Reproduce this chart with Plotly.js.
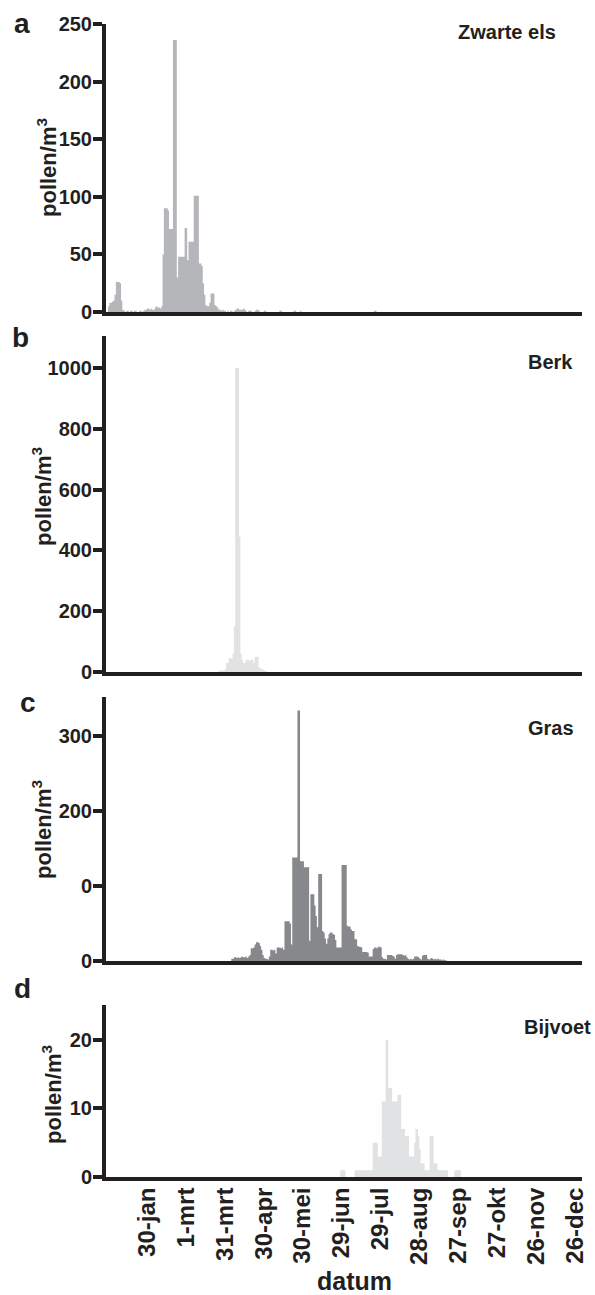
<!DOCTYPE html>
<html>
<head>
<meta charset="utf-8">
<script src="https://cdn.plot.ly/plotly-3.0.1.min.js"></script>
<style>
html,body{margin:0;padding:0;background:#fff;}
#chart{width:595px;height:1295px;}
</style>
</head>
<body>
<div id="chart"></div>
<script>
// ---- data (day of year -> pollen/m3) ----
const tickDays = [30, 60, 90, 120, 150, 180, 210, 240, 270, 300, 330, 360];
const tickLabels = ["30-jan", "1-mrt", "31-mrt", "30-apr", "30-mei", "29-jun", "29-jul", "28-aug", "27-sep", "27-okt", "26-nov", "26-dec"];

// a: Zwarte els (alder), daily from day 0
const alderStart = 0;
const alderValues = [
  5, 8, 8, 9, 10, 15, 26, 26, 26, 25,
  10, 2, 1, 0, 1, 1, 0, 1, 1, 0,
  1, 1, 0, 0, 1, 1, 0, 1, 2, 2,
  3, 3, 2, 3, 2, 2, 4, 5, 4, 4,
  3, 5, 50, 90, 90, 90, 88, 72, 72, 72,
  236, 236, 236, 30, 48, 48, 48, 48, 48, 73,
  73, 45, 61, 61, 61, 61, 101, 101, 101, 101,
  42, 42, 40, 25, 15, 6, 5, 5, 8, 16,
  16, 16, 6, 5, 4, 2, 2, 1, 2, 1,
  1, 0, 1, 0, 1, 1, 0, 1, 2, 3,
  3, 2, 2, 2, 3, 2, 1, 0, 1, 1,
  1, 0, 0, 1, 2, 2, 1, 0, 0, 0,
  1, 1, 0, 0, 0, 0, 0, 0, 0, 0,
  0, 0, 1, 1, 0, 0, 0, 0, 0, 0,
  0, 0, 0, 1, 1, 0, 0, 0, 1, 0,
  0, 0, 0, 0, 0, 0, 0, 0, 0, 0,
  0, 0, 0, 0, 0, 0, 0, 0, 0, 0,
  0, 0, 0, 0, 0, 0, 0, 0, 0, 0,
  0, 0, 0, 0, 0, 0, 0, 0, 0, 0,
  0, 0, 0, 0, 0, 0, 0, 0, 0, 0,
  0, 0, 0, 0, 0, 1, 1, 0, 0, 0
];

// b: Berk (birch), daily from day 84
const birchStart = 84;
const birchValues = [
  0, 3, 5, 5, 5, 6, 8, 30, 30, 45,
  45, 45, 60, 150, 1000, 1000, 1000, 445, 60, 40,
  30, 30, 40, 40, 40, 35, 40, 40, 30, 50,
  50, 50, 15, 12, 10, 8, 5, 3, 2, 0
];

// c: Gras (grass), daily from day 95
const grassStart = 95;
const grassValues = [
  3, 3, 5, 5, 4, 5, 4, 5, 6, 5,
  5, 6, 4, 6, 8, 17, 17, 18, 22, 25,
  25, 24, 20, 15, 8, 4, 3, 3, 2, 6,
  15, 15, 14, 15, 10, 18, 18, 18, 17, 18,
  15, 53, 53, 53, 53, 50, 22, 138, 138, 138,
  138, 334, 334, 133, 133, 133, 125, 125, 125, 125,
  27, 89, 89, 89, 74, 60, 45, 116, 116, 116,
  40, 38, 30, 23, 30, 36, 38, 38, 36, 35,
  28, 18, 18, 18, 18, 128, 128, 128, 128, 47,
  46, 46, 42, 40, 40, 29, 29, 20, 19, 19,
  18, 12, 12, 12, 12, 11, 6, 6, 6, 16,
  18, 18, 17, 19, 19, 18, 5, 3, 3, 2,
  8, 8, 8, 8, 7, 6, 3, 8, 9, 9,
  9, 9, 8, 7, 8, 5, 3, 2, 3, 2,
  3, 6, 6, 6, 5, 3, 2, 7, 8, 8,
  8, 3, 2, 3, 4, 3, 2, 3, 2, 3,
  2, 2, 1, 2, 1, 1, 0, 0
];

// d: Bijvoet (mugwort), daily from day 177
const mugwortStart = 177;
const mugwortValues = [
  0, 0, 1, 1, 1, 1, 0, 0, 0, 0,
  0, 0, 0, 1, 1, 1, 1, 1, 1, 1,
  1, 1, 1, 1, 1, 1, 1, 5, 5, 5,
  5, 3, 3, 3, 11, 11, 11, 20, 20, 13,
  13, 13, 11, 11, 11, 11, 12, 12, 12, 7,
  7, 7, 6, 6, 6, 3, 3, 3, 3, 5,
  7, 7, 6, 4, 2, 2, 2, 1, 1, 1,
  1, 6, 6, 6, 2, 2, 2, 1, 1, 1,
  1, 1, 1, 1, 1, 0, 0, 0, 0, 0,
  1, 1, 1, 1, 1, 0
];

const panelTitles = ["Zwarte els", "Berk", "Gras", "Bijvoet"];
const panelLetters = ["a", "b", "c", "d"];

// ---- styling ----
const INK = '#231f20';
const FONT = 'Liberation Sans, Arial, Helvetica, sans-serif';
const W = 595, H = 1295;
const px = v => v / W;
const py = v => 1 - v / H;

function days(start, vals) { return vals.map((_, i) => start + i); }

function areaTrace(start, vals, color, axis) {
  return {
    type: 'scatter', mode: 'lines',
    x: days(start, vals), y: vals,
    xaxis: 'x' + axis, yaxis: 'y' + axis,
    line: {width: 0, shape: 'hv', color: color},
    fill: 'tozeroy', fillcolor: color,
    hoverinfo: 'skip'
  };
}

const data = [
  areaTrace(alderStart, alderValues, '#b5b6b9', ''),
  areaTrace(birchStart, birchValues, '#e1e2e4', '2'),
  areaTrace(grassStart, grassValues, '#87888b', '3'),
  areaTrace(mugwortStart, mugwortValues, '#e1e2e4', '4')
];

const xDomain = [106 / W, 582 / W];
const xRange = [-1.6, 365.4];

function xAxis(anchor, labels) {
  return {
    domain: xDomain, range: xRange, anchor: anchor,
    showline: true, linewidth: 4, linecolor: INK,
    ticks: '', showgrid: false, zeroline: false,
    tickmode: 'array', tickvals: tickDays, ticktext: tickLabels,
    showticklabels: labels, tickangle: -90,
    ticklabelstandoff: -3,
    tickfont: {family: FONT, size: 24, color: INK, weight: 'bold'},
    fixedrange: true
  };
}
function yAxis(anchor, top, bottom, range, tvals, ttext) {
  return {
    domain: [py(bottom), py(top)], range: range, anchor: anchor,
    showline: true, linewidth: 4, linecolor: INK,
    ticks: 'outside', ticklen: 9, tickwidth: 4, tickcolor: INK,
    ticklabelstandoff: -3,
    showgrid: false, zeroline: false,
    tickmode: 'array', tickvals: tvals, ticktext: ttext,
    tickfont: {family: FONT, size: 20, color: INK, weight: 'bold'},
    fixedrange: true
  };
}

const ann = [];
function addText(text, x, y, size, opts) {
  ann.push(Object.assign({
    text: text, xref: 'paper', yref: 'paper', x: px(x), y: py(y),
    showarrow: false, xanchor: 'center', yanchor: 'middle', borderpad: 0,
    font: {family: FONT, size: size, color: INK, weight: 'bold'}
  }, opts || {}));
}
// panel letters
addText(panelLetters[0], 22, 23, 28);
addText(panelLetters[1], 20, 338, 28);
addText(panelLetters[2], 28, 702, 28);
addText(panelLetters[3], 22, 988, 28);
// panel titles
addText(panelTitles[0], 557, 32, 20, {xanchor: 'right'});
addText(panelTitles[1], 574, 362, 20, {xanchor: 'right'});
addText(panelTitles[2], 575, 728, 20, {xanchor: 'right'});
addText(panelTitles[3], 592, 1027, 20, {xanchor: 'right'});
// y titles
const yTitle = 'pollen/m<sup>3</sup>';
addText(yTitle, 47, 168, 22, {textangle: -90});
addText(yTitle, 42, 497, 22, {textangle: -90});
addText(yTitle, 42, 830, 22, {textangle: -90});
addText(yTitle, 52, 1095, 22, {textangle: -90});
// x title
addText('datum', 354, 1296, 25, {yanchor: 'bottom'});

const layout = {
  width: W, height: H,
  margin: {l: 0, r: 0, t: 0, b: 0},
  paper_bgcolor: '#ffffff', plot_bgcolor: '#ffffff',
  showlegend: false,
  xaxis: xAxis('y', false),
  xaxis2: xAxis('y2', false),
  xaxis3: xAxis('y3', false),
  xaxis4: xAxis('y4', true),
  yaxis: yAxis('x', 23.5, 312, [0, 250.4], [0, 50, 100, 150, 200, 250], ['0', '50', '100', '150', '200', '250']),
  yaxis2: yAxis('x2', 336, 672, [0, 1105], [0, 200, 400, 600, 800, 1000], ['0', '200', '400', '600', '800', '1000']),
  yaxis3: yAxis('x3', 697, 961, [0, 352], [0, 100, 200, 300], ['0', '0', '200', '300']),
  yaxis4: yAxis('x4', 1005, 1177, [0, 25.1], [0, 10, 20], ['0', '10', '20']),
  annotations: ann
};

Plotly.newPlot('chart', data, layout, {staticPlot: true, displayModeBar: false});
</script>
</body>
</html>
